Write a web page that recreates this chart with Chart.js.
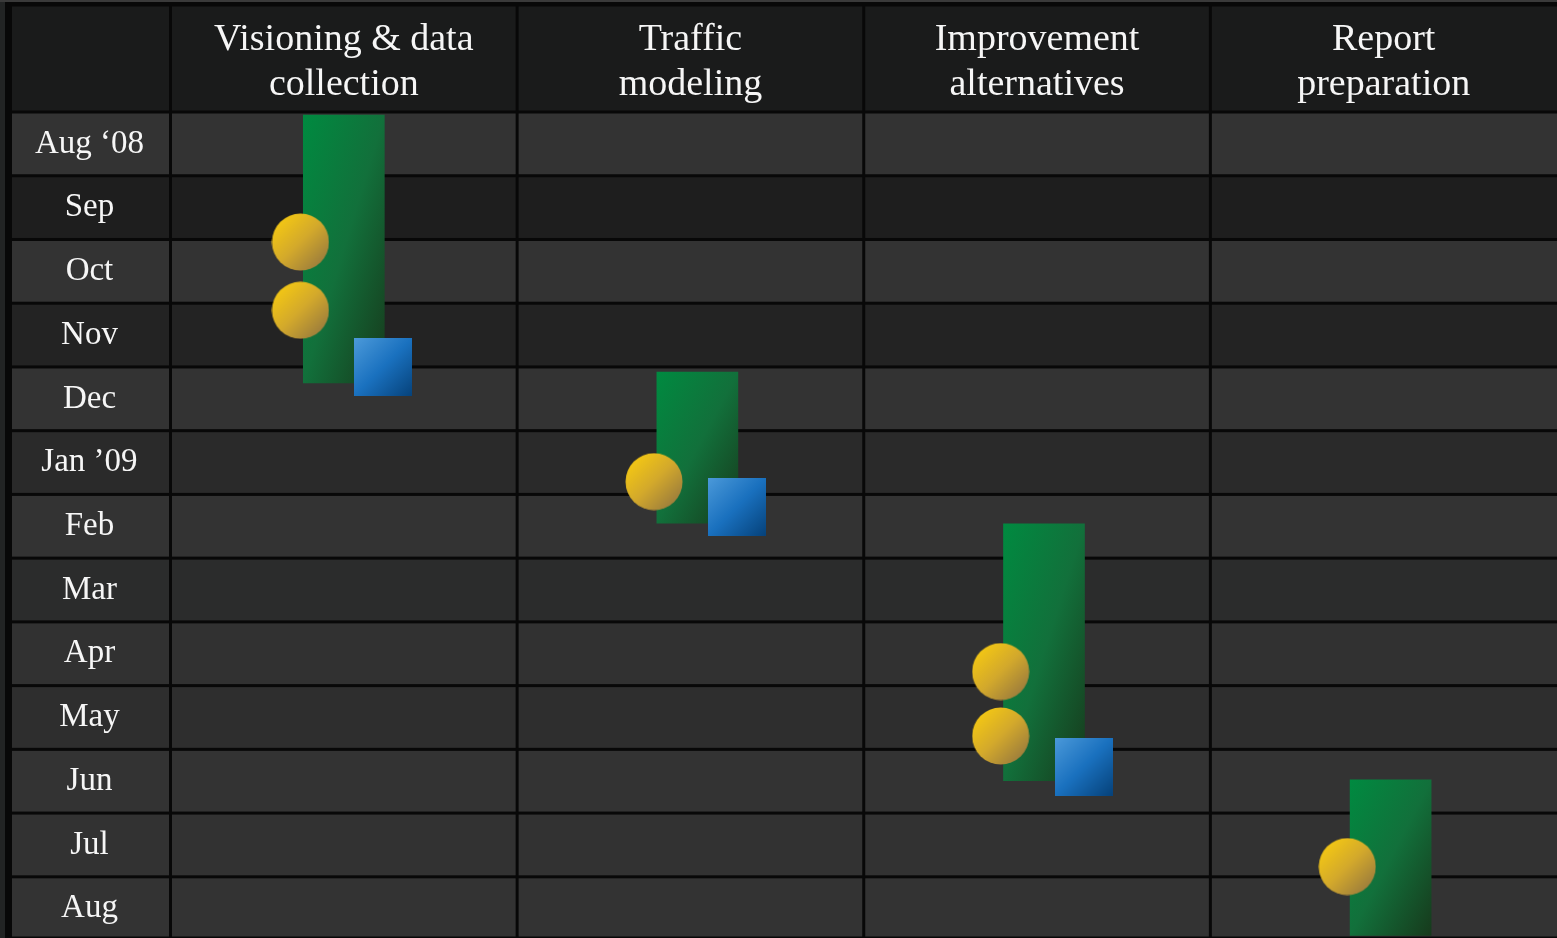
<!DOCTYPE html>
<html>
<head>
<meta charset="utf-8">
<title>Study schedule</title>
<script src="https://cdn.jsdelivr.net/npm/chart.js@4.4.1/dist/chart.umd.min.js"></script>
<style>
  html, body { margin: 0; padding: 0; background: #222424; overflow: hidden; }
  canvas { display: block; }
</style>
</head>
<body>
<canvas id="schedule" width="1557" height="938"></canvas>
<script>
const phases = [
    ['Visioning & data', 'collection'],
    ['Traffic', 'modeling'],
    ['Improvement', 'alternatives'],
    ['Report', 'preparation']
];
const months = ['Aug ‘08', 'Sep', 'Oct', 'Nov', 'Dec', 'Jan ’09', 'Feb', 'Mar', 'Apr', 'May', 'Jun', 'Jul', 'Aug'];

// phase bars, in months counted from the start of Aug '08
const phaseColumn = [1.0, 2.02, 3.02, 4.02];
const phaseStart = [0.05, 4.08, 6.46, 10.48];
const phaseEnd = [4.25, 6.45, 10.49, 12.92];

// yellow circles
const meetingPhase = [0, 0, 1, 2, 2, 3];
const meetingMonth = [2.04, 3.11, 5.80, 8.78, 9.79, 11.84];

// blue squares
const deliverablePhase = [0, 1, 2];
const deliverableMonth = [4.0, 6.19, 10.27];

// styling
const rowColors = ['#333333', '#1e1e1e', '#333333', '#232323', '#333333', '#2a2a2a', '#333333',
    '#2b2c2c', '#313131', '#2e2e2e', '#333333', '#323232', '#333333'];
const headerColor = '#1a1b1b';
const lineColor = '#080808';
const textColor = '#f6f6f6';
const serif = 'Liberation Serif';
const meetingShift = -0.125;
const deliverableShift = 0.114;

function makeMarker(round) {
    const size = 58;
    const c = document.createElement('canvas');
    c.width = size;
    c.height = size;
    const g = c.getContext('2d');
    const grad = g.createLinearGradient(0, 0, size, size);
    if (round) {
        grad.addColorStop(0, '#ffd20c');
        grad.addColorStop(0.5, '#d3a92c');
        grad.addColorStop(1, '#8a6e42');
        g.fillStyle = grad;
        g.beginPath();
        g.arc(size / 2, size / 2, size / 2 - 0.5, 0, Math.PI * 2);
        g.fill();
    } else {
        grad.addColorStop(0, '#4c9ada');
        grad.addColorStop(0.5, '#1a71bf');
        grad.addColorStop(1, '#06427a');
        g.fillStyle = grad;
        g.fillRect(0, 0, size, size);
    }
    return c;
}

// gradient whose middle runs through the other two corners of the bar
function barFill(context) {
    const chart = context.chart;
    const raw = context.raw;
    if (!chart.chartArea || !raw) {
        return '#0b7a3c';
    }
    const w = 81;
    const left = chart.scales.xPts.getPixelForValue(raw.x) - w / 2;
    const top = chart.scales.y.getPixelForValue(raw.y[0]);
    const h = chart.scales.y.getPixelForValue(raw.y[1]) - top;
    const s = 2 * w * h / (w * w + h * h);
    const grad = chart.ctx.createLinearGradient(left, top, left + h * s, top + w * s);
    grad.addColorStop(0, '#008a40');
    grad.addColorStop(0.5, '#12703b');
    grad.addColorStop(1, '#173a1c');
    return grad;
}

const tablePlugin = {
    id: 'table',
    beforeDraw(chart) {
        const ctx = chart.ctx;
        const xs = chart.scales.xPts;
        const ys = chart.scales.y;
        const gap = 1.5;

        const cols = [10.5];
        for (let i = 0; i <= phases.length; i++) {
            cols.push(xs.getPixelForValue(i + 0.5));
        }
        cols[cols.length - 1] = chart.width + 4;

        const rows = [5];
        for (let i = 0; i < months.length; i++) {
            rows.push(ys.getPixelForValue(i));
        }
        rows.push(chart.chartArea.bottom);

        ctx.save();
        ctx.fillStyle = '#222424';
        ctx.fillRect(0, 0, chart.width, chart.height);
        ctx.fillStyle = '#3a3a3a';
        ctx.fillRect(0, 0, chart.width, 2);
        ctx.fillStyle = lineColor;
        ctx.fillRect(5, 2, chart.width, chart.height);

        for (let r = 0; r < rows.length - 1; r++) {
            ctx.fillStyle = r === 0 ? headerColor : rowColors[r - 1];
            for (let c = 0; c < cols.length - 1; c++) {
                ctx.fillRect(cols[c] + gap, rows[r] + gap,
                    cols[c + 1] - cols[c] - 2 * gap, rows[r + 1] - rows[r] - 2 * gap);
            }
        }
        ctx.restore();
    }
};

const barData = phaseColumn.map((x, i) => ({ x: x, y: [phaseStart[i], phaseEnd[i]] }));
const meetingData = meetingPhase.map((p, i) => ({ x: phaseColumn[p] + meetingShift, y: meetingMonth[i] }));
const deliverableData = deliverablePhase.map((p, i) => ({ x: phaseColumn[p] + deliverableShift, y: deliverableMonth[i] }));

const scheduleCFG = {
    type: 'bar',
    data: {
        labels: phases,
        datasets: [{
            type: 'scatter',
            data: meetingData,
            xAxisID: 'xPts',
            pointStyle: makeMarker(true),
            order: 1
        }, {
            type: 'scatter',
            data: deliverableData,
            xAxisID: 'xPts',
            pointStyle: makeMarker(false),
            order: 2
        }, {
            type: 'bar',
            data: barData,
            xAxisID: 'xPts',
            backgroundColor: barFill,
            barThickness: 81,
            borderWidth: 0,
            order: 3
        }]
    },
    options: {
        responsive: false,
        animation: false,
        layout: { padding: 0, autoPadding: false },
        plugins: {
            legend: { display: false },
            tooltip: { enabled: false }
        },
        scales: {
            x: {
                type: 'category',
                position: 'top',
                labels: phases,
                offset: true,
                grid: { display: false, drawTicks: false },
                border: { display: false },
                ticks: {
                    color: textColor,
                    font: { family: serif, size: 38, lineHeight: 1.21 },
                    padding: 3.5,
                    maxRotation: 0,
                    autoSkip: false
                },
                afterFit(scale) {
                    scale.height = 112;
                    scale.paddingLeft = 0;
                    scale.paddingRight = 0;
                }
            },
            xPts: {
                type: 'linear',
                display: false,
                offset: false,
                grid: { offset: false },
                min: 0.5,
                max: 4.5
            },
            y: {
                type: 'linear',
                reverse: true,
                min: 0,
                max: 12.96,
                afterBuildTicks(scale) {
                    scale.ticks = months.map((m, i) => ({ value: i }));
                },
                grid: { display: false, drawTicks: false },
                border: { display: false },
                ticks: {
                    color: textColor,
                    font: { family: serif, size: 33 },
                    crossAlign: 'center',
                    padding: 26.5,
                    labelOffset: 31.9,
                    autoSkip: false,
                    callback: (value, index) => months[index]
                },
                afterFit(scale) {
                    scale.width = 170.5;
                    scale.paddingTop = 0;
                    scale.paddingBottom = 0;
                }
            }
        }
    },
    plugins: [tablePlugin]
};

new Chart(document.getElementById('schedule'), scheduleCFG);
</script>
</body>
</html>
